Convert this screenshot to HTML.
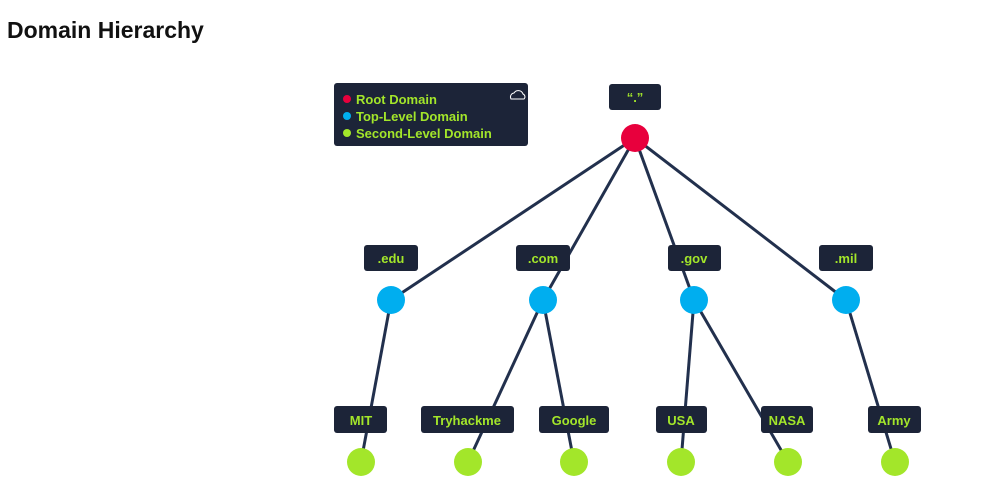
<!DOCTYPE html>
<html><head><style>
body{margin:0;background:#fff;width:990px;height:487px;overflow:hidden;font-family:"Liberation Sans",sans-serif}
h1{position:absolute;left:7px;top:17px;margin:0;font-size:23px;font-weight:bold;color:#111}
</style></head><body>
<h1>Domain Hierarchy</h1>
<svg width="990" height="487" style="position:absolute;left:0;top:0" font-family="Liberation Sans, sans-serif" font-weight="bold">
<g stroke="#22304d" stroke-width="3" fill="none">
<line x1="635" y1="138" x2="391" y2="300"/><line x1="635" y1="138" x2="543" y2="300"/>
<line x1="635" y1="138" x2="694" y2="300"/><line x1="635" y1="138" x2="846" y2="300"/>
<line x1="391" y1="300" x2="361" y2="462"/><line x1="543" y1="300" x2="468" y2="462"/>
<line x1="543" y1="300" x2="574" y2="462"/><line x1="694" y1="300" x2="681" y2="462"/>
<line x1="694" y1="300" x2="788" y2="462"/><line x1="846" y1="300" x2="895" y2="462"/>
</g>
<circle cx="635" cy="138" r="14" fill="#e8003d"/>
<g fill="#00aeef"><circle cx="391" cy="300" r="14"/><circle cx="543" cy="300" r="14"/><circle cx="694" cy="300" r="14"/><circle cx="846" cy="300" r="14"/></g>
<g fill="#a3e62a"><circle cx="361" cy="462" r="14"/><circle cx="468" cy="462" r="14"/><circle cx="574" cy="462" r="14"/><circle cx="681" cy="462" r="14"/><circle cx="788" cy="462" r="14"/><circle cx="895" cy="462" r="14"/></g>
<g fill="#1c2438">
<rect x="334" y="83" width="194" height="63" rx="3"/>
<rect x="609" y="84" width="52" height="26" rx="3"/>
<rect x="364" y="245" width="54" height="26" rx="3"/><rect x="516" y="245" width="54" height="26" rx="3"/>
<rect x="668" y="245" width="53" height="26" rx="3"/><rect x="819" y="245" width="54" height="26" rx="3"/>
<rect x="334" y="406" width="53" height="27" rx="3"/><rect x="421" y="406" width="93" height="27" rx="3"/>
<rect x="539" y="406" width="70" height="27" rx="3"/><rect x="656" y="406" width="51" height="27" rx="3"/>
<rect x="761" y="406" width="52" height="27" rx="3"/><rect x="868" y="406" width="53" height="27" rx="3"/>
</g>
<g fill="#a3e62a" font-size="13" text-anchor="middle">
<text x="635" y="102">“.”</text>
<text x="391" y="263">.edu</text><text x="543" y="263">.com</text><text x="694" y="263">.gov</text><text x="846" y="263">.mil</text>
<text x="361" y="425">MIT</text><text x="467" y="425">Tryhackme</text><text x="574" y="425">Google</text>
<text x="681" y="425">USA</text><text x="787" y="425">NASA</text><text x="894" y="425">Army</text>
</g>
<circle cx="347" cy="99" r="4" fill="#e8003d"/><circle cx="347" cy="116" r="4" fill="#00aeef"/><circle cx="347" cy="133" r="4" fill="#a3e62a"/>
<g fill="#a3e62a" font-size="13">
<text x="356" y="104">Root Domain</text><text x="356" y="121">Top-Level Domain</text><text x="356" y="138">Second-Level Domain</text>
</g>
<path d="M511 99 a4 4 0 0 1 3-6 a5 5 0 0 1 9 1 a3 3 0 0 1 1 5 z" fill="none" stroke="#fff" stroke-width="1"/>
</svg>
</body></html>
